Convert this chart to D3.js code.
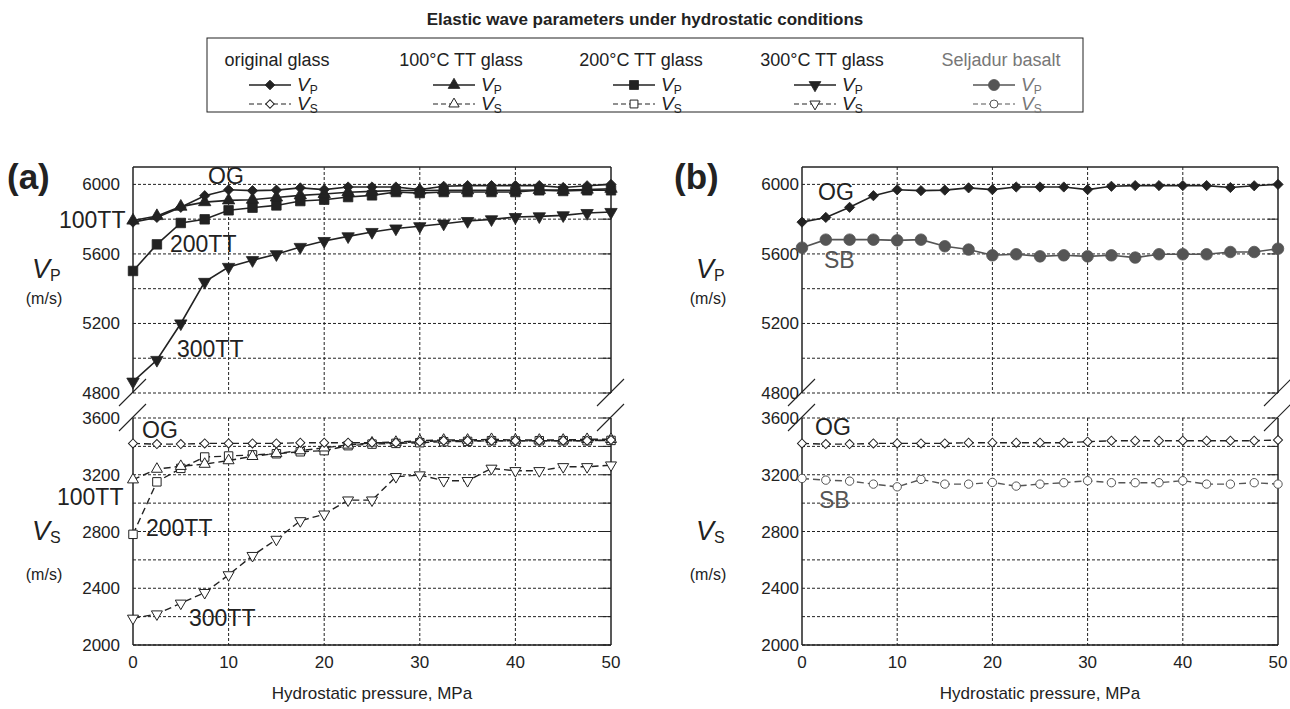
<!DOCTYPE html>
<html>
<head>
<meta charset="utf-8">
<script src="https://cdn.jsdelivr.net/npm/d3@7/dist/d3.min.js"></script>
<style>
  body { margin: 0; background: #fff; }
  text { font-family: "Liberation Sans", Arial, sans-serif; fill: #222; }
</style>
</head>
<body>
<div id="my_dataviz"></div>
<script>
// hydrostatic pressure steps (MPa)
var pressure = [0, 2.5, 5, 7.5, 10, 12.5, 15, 17.5, 20, 22.5, 25, 27.5, 30, 32.5, 35, 37.5, 40, 42.5, 45, 47.5, 50]

// P-wave velocities (m/s)
var ogVp    = [5783, 5810, 5868, 5935, 5969, 5964, 5967, 5980, 5970, 5985, 5985, 5985, 5970, 5989, 5993, 5993, 5993, 5993, 5982, 5992, 6000]
var tt100Vp = [5792, 5818, 5872, 5898, 5908, 5912, 5925, 5937, 5945, 5955, 5960, 5965, 5965, 5966, 5966, 5966, 5966, 5968, 5968, 5970, 5975]
var tt200Vp = [5502, 5655, 5778, 5799, 5851, 5866, 5879, 5904, 5912, 5927, 5937, 5956, 5950, 5956, 5956, 5956, 5956, 5966, 5962, 5966, 5966]
var tt300Vp = [4865, 4990, 5200, 5439, 5525, 5564, 5598, 5640, 5674, 5701, 5726, 5746, 5759, 5774, 5789, 5799, 5812, 5816, 5822, 5835, 5841]
var sbVp    = [5636, 5682, 5682, 5682, 5678, 5682, 5644, 5625, 5592, 5598, 5586, 5592, 5586, 5592, 5579, 5598, 5598, 5598, 5611, 5611, 5630]

// S-wave velocities (m/s)
var ogVs    = [3421, 3416, 3416, 3421, 3421, 3421, 3421, 3426, 3426, 3426, 3426, 3426, 3433, 3440, 3440, 3440, 3440, 3440, 3440, 3440, 3445]
var tt100Vs = [3165, 3240, 3260, 3275, 3300, 3330, 3350, 3370, 3390, 3410, 3425, 3430, 3440, 3445, 3445, 3450, 3445, 3445, 3445, 3450, 3450]
var tt200Vs = [2780, 3150, 3245, 3325, 3332, 3340, 3348, 3362, 3370, 3405, 3416, 3421, 3426, 3433, 3435, 3440, 3438, 3440, 3440, 3440, 3442]
var tt300Vs = [2188, 2218, 2294, 2369, 2494, 2630, 2744, 2875, 2922, 3021, 3021, 3186, 3198, 3158, 3158, 3245, 3228, 3228, 3256, 3256, 3268]
var sbVs    = [3174, 3162, 3155, 3134, 3115, 3167, 3134, 3134, 3146, 3120, 3134, 3144, 3158, 3144, 3144, 3144, 3158, 3134, 3134, 3144, 3134]

// axis ticks
var xTicks = [0, 10, 20, 30, 40, 50]
var vpTickLabels = [4800, 5200, 5600, 6000]
var vsTickLabels = [2000, 2400, 2800, 3200, 3600]
var legendNames = ["original glass", "100°C TT glass", "200°C TT glass", "300°C TT glass", "Seljadur basalt"]

var width = 1290, height = 709
var dark = "#222", grey = "#555"

var svg = d3.select("#my_dataviz")
  .append("svg")
    .attr("width", width)
    .attr("height", height)

// the two stacked value ranges (broken axis)
var yTop = d3.scaleLinear().domain([4800, 6100]).range([393, 167])
var yBot = d3.scaleLinear().domain([2000, 3600]).range([645, 418])

// marker shapes
var shapes = {
  diamond: { type: d3.symbolSquare, rot: 45, k: 0.55 },
  tri:     { type: d3.symbolTriangle, rot: 0, k: 0.7 },
  square:  { type: d3.symbolSquare, rot: 0, k: 0.95 },
  itri:    { type: d3.symbolTriangle, rot: 180, k: 0.7 },
  circle:  { type: d3.symbolCircle, rot: 0, k: 1 }
}

function marker(g, shape, cx, cy, filled, color, size) {
  var s = shapes[shape]
  g.append("path")
    .attr("d", d3.symbol().type(s.type).size(size * s.k)())
    .attr("transform", "translate(" + cx + "," + cy + ") rotate(" + s.rot + ")")
    .attr("fill", filled ? color : "#fff")
    .attr("stroke", color)
    .attr("stroke-width", filled ? 0.8 : 1)
}

function series(g, x, y, values, shape, filled, color) {
  var pts = pressure.map(function(p, i) { return [x(p), y(values[i])] })
  g.append("path")
    .attr("d", d3.line()(pts))
    .attr("fill", "none")
    .attr("stroke", color)
    .attr("stroke-width", filled ? 1.6 : 1.4)
    .attr("stroke-dasharray", filled ? null : "7,4")
  var size = filled ? (shape == "circle" ? 105 : 95) : (shape == "circle" ? 55 : 75)
  pts.forEach(function(d) { marker(g, shape, d[0], d[1], filled, color, size) })
}

function vLabel(g, x, yBase, sub) {
  var t = g.append("text").attr("x", x).attr("y", yBase)
  t.append("tspan").attr("font-size", 27).attr("font-style", "italic").text("V")
  t.append("tspan").attr("font-size", 16).attr("dy", 3).text(sub)
}

function panel(x0, x1, tickX, name, nameX, labX) {
  var x = d3.scaleLinear().domain([0, 50]).range([x0, x1])
  var g = svg.append("g")

  // dashed grid
  var hGrid = d3.range(4800, 6001, 200).map(yTop).concat(d3.range(2000, 3601, 200).map(yBot))
  hGrid.forEach(function(yy) {
    g.append("line").attr("x1", x0).attr("x2", x1).attr("y1", yy).attr("y2", yy)
      .attr("stroke", dark).attr("stroke-width", 1).attr("stroke-dasharray", "3,2")
    g.append("line").attr("x1", x1 - 10).attr("x2", x1).attr("y1", yy).attr("y2", yy)
      .attr("stroke", dark).attr("stroke-width", 1)
  })
  xTicks.slice(1, -1).forEach(function(v) {
    [[yTop(6100), yTop(4800)], [yBot(3600), yBot(2000)]].forEach(function(r) {
      g.append("line").attr("x1", x(v)).attr("x2", x(v)).attr("y1", r[0]).attr("y2", r[1])
        .attr("stroke", dark).attr("stroke-width", 1).attr("stroke-dasharray", "3,2")
    })
  })

  // solid frame pieces
  var frame = [
    [x0, yTop(6100), x0, yTop(4800)], [x1, yTop(6100), x1, yTop(4800)],
    [x0, yBot(3600), x0, yBot(2000)], [x1, yBot(3600), x1, yBot(2000)],
    [x0, yTop(6100), x1, yTop(6100)], [x0, yBot(2000), x1, yBot(2000)]
  ]
  frame.forEach(function(f) {
    g.append("line").attr("x1", f[0]).attr("y1", f[1]).attr("x2", f[2]).attr("y2", f[3])
      .attr("stroke", dark).attr("stroke-width", 1.5)
  })

  // axis break marks
  ;[x0, x1].forEach(function(ax) {
    [yTop(4800), yBot(3600)].forEach(function(yy) {
      g.append("line").attr("x1", ax - 14).attr("y1", yy + 13).attr("x2", ax + 13).attr("y2", yy - 14)
        .attr("stroke", dark).attr("stroke-width", 1.1)
    })
  })

  // tick labels
  vpTickLabels.forEach(function(v) {
    g.append("text").attr("x", tickX).attr("y", yTop(v) + 6).attr("text-anchor", "end")
      .attr("font-size", 17).text(v)
  })
  vsTickLabels.forEach(function(v) {
    g.append("text").attr("x", tickX).attr("y", yBot(v) + 6).attr("text-anchor", "end")
      .attr("font-size", 17).text(v)
  })
  xTicks.forEach(function(v) {
    g.append("text").attr("x", x(v)).attr("y", 668).attr("text-anchor", "middle")
      .attr("font-size", 17).text(v)
  })
  g.append("text").attr("x", (x0 + x1) / 2).attr("y", 699).attr("text-anchor", "middle")
    .attr("font-size", 17).text("Hydrostatic pressure, MPa")

  // panel letter
  g.append("text").attr("x", nameX).attr("y", 189).attr("font-size", 35).attr("font-weight", "bold").text(name)

  // y labels
  vLabel(g, labX, 278, "P")
  g.append("text").attr("x", labX + 12).attr("y", 304).attr("text-anchor", "middle").attr("font-size", 16).text("(m/s)")
  vLabel(g, labX, 540, "S")
  g.append("text").attr("x", labX + 12).attr("y", 580).attr("text-anchor", "middle").attr("font-size", 16).text("(m/s)")

  return { g: g, x: x }
}

var pa = panel(133, 611, 120, "(a)", 7, 32)
var pb = panel(802, 1278, 799, "(b)", 674, 696)

// panel (a) series
series(pa.g, pa.x, yTop, tt300Vp, "itri", true, dark)
series(pa.g, pa.x, yTop, tt200Vp, "square", true, dark)
series(pa.g, pa.x, yTop, tt100Vp, "tri", true, dark)
series(pa.g, pa.x, yTop, ogVp, "diamond", true, dark)
series(pa.g, pa.x, yBot, tt300Vs, "itri", false, dark)
series(pa.g, pa.x, yBot, tt200Vs, "square", false, dark)
series(pa.g, pa.x, yBot, tt100Vs, "tri", false, dark)
series(pa.g, pa.x, yBot, ogVs, "diamond", false, dark)

// panel (b) series
series(pb.g, pb.x, yTop, sbVp, "circle", true, grey)
series(pb.g, pb.x, yTop, ogVp, "diamond", true, dark)
series(pb.g, pb.x, yBot, sbVs, "circle", false, grey)
series(pb.g, pb.x, yBot, ogVs, "diamond", false, dark)

// curve names
function tag(x, y, txt, color) {
  svg.append("text").attr("x", x).attr("y", y).attr("font-size", 23)
    .style("fill", color || dark).text(txt)
}
tag(208, 184, "OG"); tag(59, 228, "100TT"); tag(170, 252, "200TT"); tag(177, 357, "300TT")
tag(142, 438, "OG"); tag(57, 505, "100TT"); tag(146, 536, "200TT"); tag(189, 626, "300TT")
tag(818, 200, "OG"); tag(824, 268, "SB", grey); tag(815, 435, "OG"); tag(819, 508, "SB", grey)

// title + legend
svg.append("text").attr("x", 645).attr("y", 25).attr("text-anchor", "middle")
  .attr("font-size", 17).attr("font-weight", "bold").text("Elastic wave parameters under hydrostatic conditions")

var leg = svg.append("g")
leg.append("rect").attr("x", 207).attr("y", 38).attr("width", 876).attr("height", 74)
  .attr("fill", "#fff").attr("stroke", dark).attr("stroke-width", 1)

var legShapes = ["diamond", "tri", "square", "itri", "circle"]
var colCenters = [277, 461, 641, 822, 1001]
legendNames.forEach(function(n, i) {
  var c = colCenters[i], col = i == 4 ? grey : dark
  leg.append("text").attr("x", c).attr("y", 66).attr("text-anchor", "middle")
    .attr("font-size", 18).style("fill", i == 4 ? "#777" : dark).text(n)
  ;[[85, true, "P"], [104, false, "S"]].forEach(function(r) {
    var lx = c - 7
    leg.append("line").attr("x1", lx - 21).attr("x2", lx + 21).attr("y1", r[0]).attr("y2", r[0])
      .attr("stroke", col).attr("stroke-width", r[1] ? 1.6 : 1.2).attr("stroke-dasharray", r[1] ? null : "5,3")
    marker(leg, legShapes[i], lx, r[0], r[1], col, r[1] ? (i == 4 ? 95 : 85) : (i == 4 ? 50 : 65))
    var t = leg.append("text").attr("x", lx + 27).attr("y", r[0] + 6).style("fill", i == 4 ? "#777" : dark)
    t.append("tspan").attr("font-size", 19).attr("font-style", "italic").text("V")
    t.append("tspan").attr("font-size", 12).attr("dy", 3).text(r[2])
  })
})
</script>
</body>
</html>
